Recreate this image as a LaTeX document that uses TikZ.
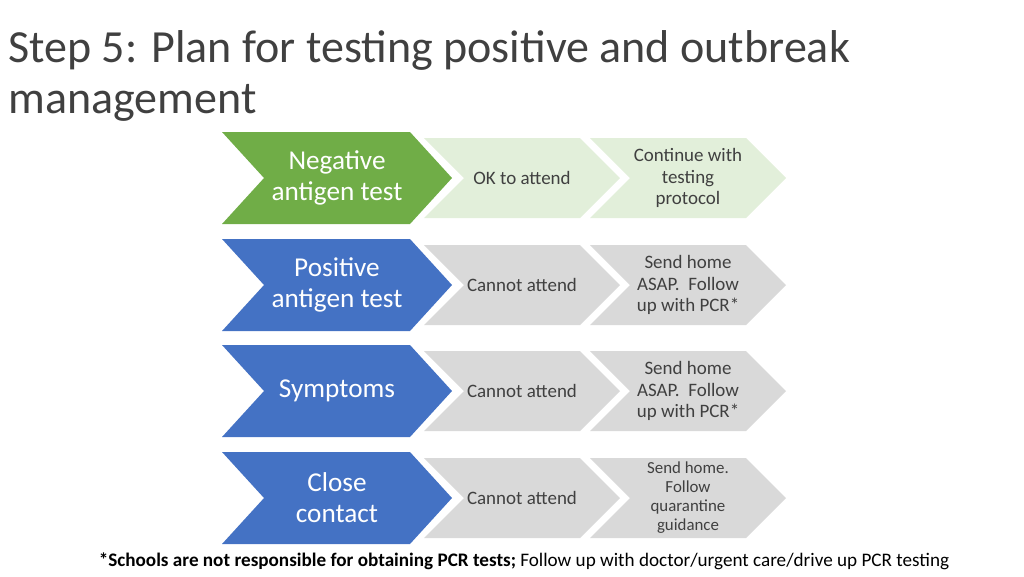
\documentclass[tikz,border=0pt]{standalone}
\usepackage{fontspec}
\setmainfont{Carlito}
\definecolor{cgreen}{HTML}{70AD47}
\definecolor{cblue}{HTML}{4472C4}
\definecolor{lgreen}{HTML}{E2EFDA}
\definecolor{lgray}{HTML}{D9D9D9}
\definecolor{ctext}{HTML}{404040}
\tikzset{
  bigtxt/.style={text=white, font=\fontsize{15.5}{17.6}\selectfont, align=center},
  smalltxt/.style={text=ctext, font=\fontsize{10.8}{12}\selectfont, align=center},
}
% chevron: name, left x, right x, center y, half height, depth, fill
\newcommand\chev[7]{%
  \fill[#7] (#2,#4-#5) -- (#3-#6,#4-#5) -- (#3,#4) -- (#3-#6,#4+#5)
    -- (#2,#4+#5) -- (#2+#6,#4) -- cycle;
  \coordinate (#1) at ({(#2+#3)/2},#4);}
\begin{document}
\begin{tikzpicture}[x=0.02cm,y=-0.02cm]
  \useasboundingbox (0,0) rectangle (1024,576);

  % Title
  \node[anchor=north west, align=left, text=ctext, font=\fontsize{26.2}{29}\selectfont, inner sep=0pt] (title) at (8,30)
    {Step 5: Plan for testing positive and outbreak\\management};

  % Rows
  \chev{neg}{222}{452}{178}{46}{42}{cgreen}
  \chev{negA}{424}{620}{178}{40}{40}{lgreen}
  \chev{negB}{590}{786}{178}{40}{40}{lgreen}
  \node[bigtxt] (negT) at (neg) {Negative\\antigen test};
  \node[smalltxt] (negAT) at (negA) {OK to attend};
  \node[smalltxt] (negBT) at (negB) {Continue with\\testing\\protocol};

  \chev{pos}{222}{452}{285}{46}{42}{cblue}
  \chev{posA}{424}{620}{285}{40}{40}{lgray}
  \chev{posB}{590}{786}{285}{40}{40}{lgray}
  \node[bigtxt] (posT) at (pos) {Positive\\antigen test};
  \node[smalltxt] (posAT) at (posA) {Cannot attend};
  \node[smalltxt] (posBT) at (posB) {Send home\\ASAP.\ \ Follow\\up with PCR*};

  \chev{sym}{222}{452}{391}{46}{42}{cblue}
  \chev{symA}{424}{620}{391}{40}{40}{lgray}
  \chev{symB}{590}{786}{391}{40}{40}{lgray}
  \node[bigtxt] (symT) at (sym) {Symptoms};
  \node[smalltxt] (symAT) at (symA) {Cannot attend};
  \node[smalltxt] (symBT) at (symB) {Send home\\ASAP.\ \ Follow\\up with PCR*};

  \chev{cls}{222}{452}{498}{46}{42}{cblue}
  \chev{clsA}{424}{620}{498}{40}{40}{lgray}
  \chev{clsB}{590}{786}{498}{40}{40}{lgray}
  \node[bigtxt] (clsT) at (cls) {Close\\contact};
  \node[smalltxt] (clsAT) at (clsA) {Cannot attend};
  \node[smalltxt, font=\fontsize{9.6}{10.8}\selectfont] (clsBT) at (clsB) {Send home.\\Follow\\quarantine\\guidance};

  % Footer
  \node[text=black, font=\fontsize{10.9}{12}\selectfont] (foot) at (524,561)
    {\textbf{*Schools are not responsible for obtaining PCR tests;} Follow up with doctor/urgent care/drive up PCR testing};
\end{tikzpicture}
\end{document}
